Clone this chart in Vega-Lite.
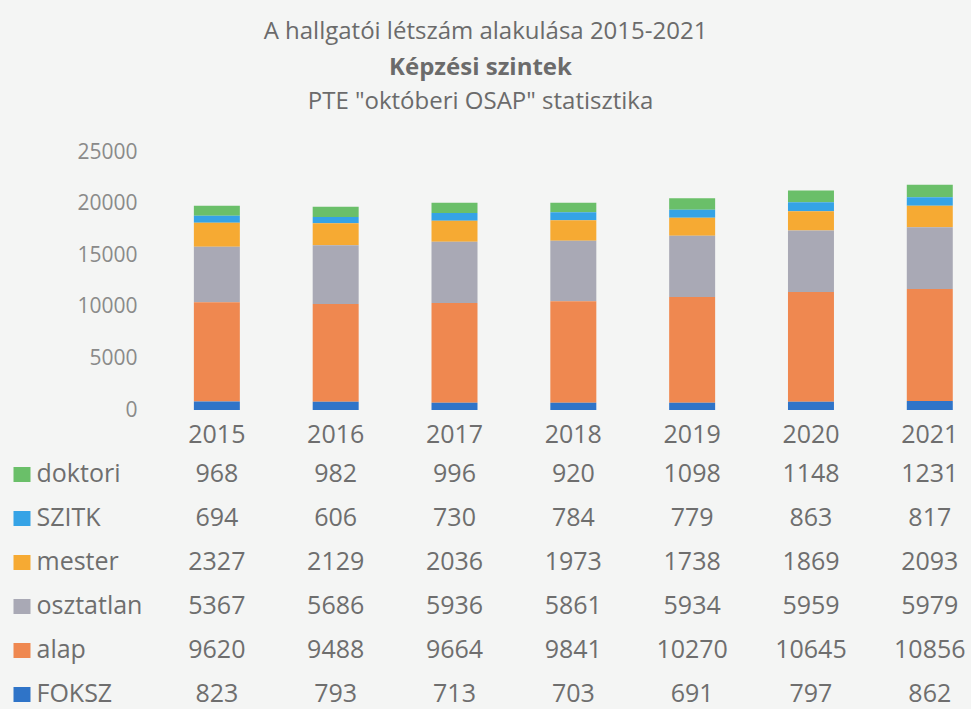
{
  "$schema": "https://vega.github.io/schema/vega-lite/v6.json",
  "background": "#f4f5f4",
  "padding": {"left": 5, "top": 20, "right": 5, "bottom": 0},
  "title": {
    "text": "A hallgatói létszám alakulása 2015-2021",
    "font": "Open Sans", "fontSize": 24, "fontWeight": "normal", "color": "#6b6b6b",
    "anchor": "middle", "frame": "bounds", "offset": 12
  },
  "spacing": 6,
  "config": {
    "view": {"stroke": null},
    "axis": {"labelFont": "Open Sans", "labelColor": "#6e6e6e", "domain": false, "grid": false, "ticks": false, "title": null}
  },
  "datasets": {
    "stackrank": [
      {"series": "FOKSZ", "rank": 1},
      {"series": "alap", "rank": 2},
      {"series": "osztatlan", "rank": 3},
      {"series": "mester", "rank": 4},
      {"series": "SZITK", "rank": 5},
      {"series": "doktori", "rank": 6}
    ],
    "counts": [
      {"year": "2015", "series": "doktori", "value": 968},
      {"year": "2016", "series": "doktori", "value": 982},
      {"year": "2017", "series": "doktori", "value": 996},
      {"year": "2018", "series": "doktori", "value": 920},
      {"year": "2019", "series": "doktori", "value": 1098},
      {"year": "2020", "series": "doktori", "value": 1148},
      {"year": "2021", "series": "doktori", "value": 1231},
      {"year": "2015", "series": "SZITK", "value": 694},
      {"year": "2016", "series": "SZITK", "value": 606},
      {"year": "2017", "series": "SZITK", "value": 730},
      {"year": "2018", "series": "SZITK", "value": 784},
      {"year": "2019", "series": "SZITK", "value": 779},
      {"year": "2020", "series": "SZITK", "value": 863},
      {"year": "2021", "series": "SZITK", "value": 817},
      {"year": "2015", "series": "mester", "value": 2327},
      {"year": "2016", "series": "mester", "value": 2129},
      {"year": "2017", "series": "mester", "value": 2036},
      {"year": "2018", "series": "mester", "value": 1973},
      {"year": "2019", "series": "mester", "value": 1738},
      {"year": "2020", "series": "mester", "value": 1869},
      {"year": "2021", "series": "mester", "value": 2093},
      {"year": "2015", "series": "osztatlan", "value": 5367},
      {"year": "2016", "series": "osztatlan", "value": 5686},
      {"year": "2017", "series": "osztatlan", "value": 5936},
      {"year": "2018", "series": "osztatlan", "value": 5861},
      {"year": "2019", "series": "osztatlan", "value": 5934},
      {"year": "2020", "series": "osztatlan", "value": 5959},
      {"year": "2021", "series": "osztatlan", "value": 5979},
      {"year": "2015", "series": "alap", "value": 9620},
      {"year": "2016", "series": "alap", "value": 9488},
      {"year": "2017", "series": "alap", "value": 9664},
      {"year": "2018", "series": "alap", "value": 9841},
      {"year": "2019", "series": "alap", "value": 10270},
      {"year": "2020", "series": "alap", "value": 10645},
      {"year": "2021", "series": "alap", "value": 10856},
      {"year": "2015", "series": "FOKSZ", "value": 823},
      {"year": "2016", "series": "FOKSZ", "value": 793},
      {"year": "2017", "series": "FOKSZ", "value": 713},
      {"year": "2018", "series": "FOKSZ", "value": 703},
      {"year": "2019", "series": "FOKSZ", "value": 691},
      {"year": "2020", "series": "FOKSZ", "value": 797},
      {"year": "2021", "series": "FOKSZ", "value": 862}
    ]
  },
  "data": {"name": "counts"},
  "resolve": {"scale": {"x": "independent", "y": "independent", "color": "independent"}},
  "vconcat": [
    {
      "width": 815,
      "height": 258,
      "title": {
        "text": "Képzési szintek",
        "subtitle": "PTE \"októberi OSAP\" statisztika",
        "font": "Open Sans", "fontSize": 24, "fontWeight": "bold", "color": "#6b6b6b",
        "subtitleFont": "Open Sans", "subtitleFontSize": 24, "subtitleColor": "#6b6b6b", "subtitlePadding": 10,
        "anchor": "middle", "frame": "bounds", "dx": -40, "offset": 27
      },
      "transform": [
        {"lookup": "series", "from": {"data": {"name": "stackrank"}, "key": "series", "fields": ["rank"]}}
      ],
      "mark": {"type": "bar"},
      "encoding": {
        "x": {
          "field": "year", "type": "ordinal",
          "scale": {"type": "band", "paddingInner": 0.613, "paddingOuter": 0.236, "align": 0.8},
          "axis": {"labelAngle": 0, "labelFontSize": 25, "labelPadding": 12}
        },
        "y": {
          "field": "value", "type": "quantitative", "stack": "zero",
          "scale": {"domain": [0, 25000]},
          "axis": {"values": [0, 5000, 10000, 15000, 20000, 25000], "labelFontSize": 21, "labelPadding": 12, "format": "d", "labelColor": "#8a8a8a"}
        },
        "color": {
          "field": "series", "type": "nominal",
          "scale": {
            "domain": ["FOKSZ", "alap", "osztatlan", "mester", "SZITK", "doktori"],
            "range": ["#2f74c8", "#ef8850", "#a9a9b5", "#f6aa33", "#35a3e6", "#6abf69"]
          },
          "legend": null
        },
        "order": {"field": "rank", "type": "quantitative", "sort": "ascending"}
      }
    },
    {
      "width": 815,
      "height": 256,
      "mark": {"type": "text", "font": "Open Sans", "fontSize": 25, "color": "#6e6e6e"},
      "encoding": {
        "x": {
          "field": "year", "type": "ordinal",
          "scale": {"type": "band", "paddingInner": 0.613, "paddingOuter": 0.236, "align": 0.8},
          "axis": null
        },
        "y": {
          "field": "series", "type": "nominal",
          "sort": ["doktori", "SZITK", "mester", "osztatlan", "alap", "FOKSZ"],
          "scale": {"type": "point", "padding": 0.409, "align": 0.583},
          "axis": {
            "orient": "left", "offset": 119, "labelFontSize": 25, "labelAlign": "left", "labelPadding": -23,
            "ticks": true, "tickSize": 17, "tickWidth": 15,
            "tickColor": {"expr": "datum.value == 'doktori' ? '#6abf69' : datum.value == 'SZITK' ? '#35a3e6' : datum.value == 'mester' ? '#f6aa33' : datum.value == 'osztatlan' ? '#a9a9b5' : datum.value == 'alap' ? '#ef8850' : '#2f74c8'"}
          }
        },
        "text": {"field": "value", "type": "quantitative", "format": "d"}
      }
    }
  ]
}
